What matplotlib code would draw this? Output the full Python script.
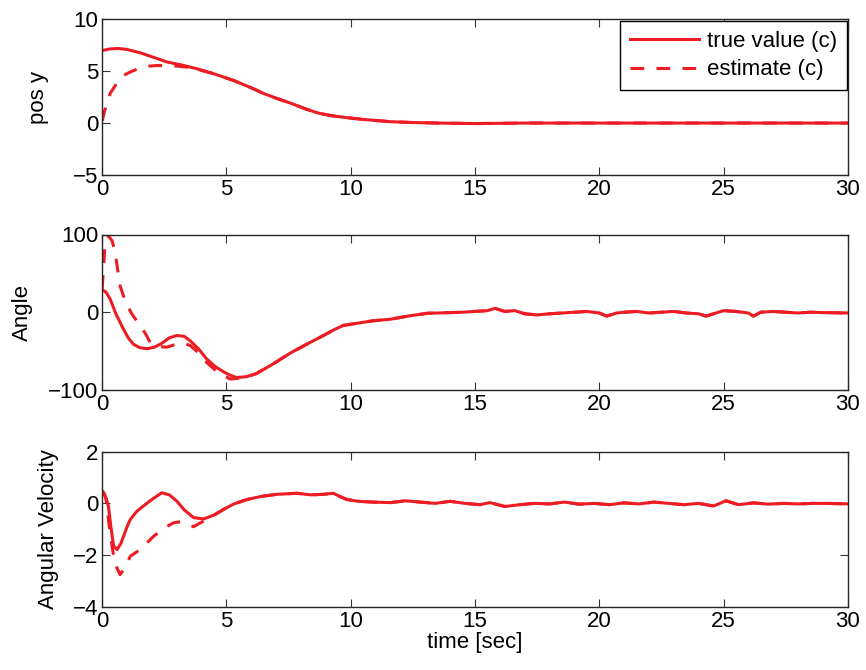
import matplotlib.pyplot as plt

plt.rcParams["font.family"] = ["Liberation Sans", "DejaVu Sans"]
plt.rcParams["font.size"] = 16

# Gemeinsame Auslaeufer (ab dem Zusammenlaufen beider Kurven)
t_pos_tail = [4.5, 5.3, 6.0, 6.5, 7.0, 7.6, 8.2, 8.7, 9.2, 9.7, 10.5, 11.6,
              12.5, 13.5, 15, 17, 20, 23, 26, 30]
pos_tail = [4.75, 4.1, 3.4, 2.85, 2.4, 1.9, 1.35, 0.96, 0.72, 0.56, 0.35, 0.13,
            0.05, 0.0, -0.05, 0.0, 0.0, 0.0, 0.0, 0.0]

t_pos_true = [0, 0.3, 0.65, 1.0, 1.5, 2.0, 2.6, 3.2, 3.8] + t_pos_tail
pos_true = [7.0, 7.15, 7.2, 7.1, 6.8, 6.4, 5.9, 5.6, 5.25] + pos_tail
t_pos_est = [0, 0.1, 0.32, 0.6, 0.85, 1.2, 1.5, 1.9, 2.2, 2.6, 3.0, 3.4, 3.7,
             4.2] + t_pos_tail
pos_est = [0.2, 1.2, 2.85, 3.9, 4.6, 5.0, 5.3, 5.5, 5.55, 5.55, 5.5, 5.4, 5.25,
           4.95] + pos_tail

t_ang_tail = [5.8, 6.2, 6.8, 7.6, 8.3, 8.9, 9.3, 9.7, 10.3, 10.9, 11.6, 12.3,
              13.1, 13.5, 14, 14.5, 15, 15.5, 15.8, 16.2, 16.6, 17, 17.5, 18,
              18.5, 19, 19.5, 20, 20.3, 20.7, 21, 21.5, 22, 22.5, 23, 23.5, 24,
              24.3, 24.7, 25, 25.5, 26, 26.2, 26.5, 27, 27.5, 28, 28.5, 29, 30]
ang_tail = [-83, -79, -68, -52, -40, -30, -23, -17, -14, -11, -9, -5,
            -1.3, -1, -0.5, 0, 1, 2, 5, 1, 2, -2, -3.5, -2,
            -1, 0, 1, -1, -5, -1, 0, 1, -1, 0, 1, -1, -2,
            -5, -1, 2, 1, -1, -5, 0, 1, 0, -1, 0, -0.5, -1]

t_ang_true = [0, 0.15, 0.32, 0.55, 0.86, 1.05, 1.25, 1.5, 1.8, 2.1, 2.4, 2.7,
              3.0, 3.3, 3.55, 3.9, 4.2, 4.55, 4.9, 5.15, 5.4] + t_ang_tail
ang_true = [29, 26, 17, -2, -22, -33, -41, -45.5, -47, -45, -40, -33,
            -30, -31, -37, -48, -60, -70, -77, -81, -84] + ang_tail
t_ang_est = [0, 0.1, 0.25, 0.4, 0.52, 0.72, 0.95, 1.2, 1.53, 1.75, 1.93, 2.2,
             2.6, 3.0, 3.3, 3.55, 3.9, 4.2, 4.6, 5.15, 5.5] + t_ang_tail
ang_est = [30, 80, 98, 92, 77, 34, 12, -2.5, -17.5, -28, -39, -44,
           -45, -41, -40, -43, -53, -64.5, -76, -86, -85] + ang_tail

t_vel_tail = [4.5, 4.89, 5.3, 5.83, 6.4, 7.03, 7.84, 8.4, 8.9, 9.3, 9.6, 9.85,
              10.3, 10.9, 11.6, 12.2, 12.8, 13.4, 14, 14.6, 15.2, 15.6, 16.2,
              16.8, 17.4, 18, 18.6, 19.2, 19.8, 20.4, 21, 21.6, 22.2, 22.8,
              23.4, 24, 24.6, 25.1, 25.6, 26.2, 26.8, 27.4, 28, 28.6, 29.2, 30]
vel_tail = [-0.45, -0.23, -0.02, 0.15, 0.27, 0.35, 0.39, 0.33, 0.35, 0.39, 0.25,
            0.15, 0.08, 0.05, 0.03, 0.1, 0.05, 0.0, 0.08, 0.0, -0.05, 0.03,
            -0.12, -0.05, 0.0, -0.02, 0.05, -0.03, 0.0, -0.05, 0.02, -0.02,
            0.05, 0.0, -0.05, 0.0, -0.1, 0.1, -0.05, 0.02, -0.03, 0.0, -0.02,
            0.0, 0.0, -0.02]

t_vel_true = [0, 0.1, 0.25, 0.35, 0.46, 0.6, 0.75, 0.86, 1.0, 1.13, 1.4, 1.66,
              2.0, 2.4, 2.7, 3.0, 3.3, 3.68, 4.08] + t_vel_tail
vel_true = [0.48, 0.35, -0.1, -0.9, -1.65, -1.78, -1.55, -1.27, -0.9, -0.62,
            -0.3, -0.1, 0.15, 0.41, 0.33, 0.09, -0.25, -0.55, -0.6] + vel_tail
t_vel_est = [0, 0.15, 0.3, 0.5, 0.72, 0.9, 1.13, 1.53, 2.07, 2.5, 2.87, 3.2,
             3.68, 4.08] + t_vel_tail
vel_est = [0.5, 0.2, -1.0, -2.3, -2.75, -2.5, -2.04, -1.78, -1.27, -0.95,
           -0.75, -0.7, -0.9, -0.68] + vel_tail

x_ticks = [0, 5, 10, 15, 20, 25, 30]
panels = [
    ("pos y", t_pos_true, pos_true, t_pos_est, pos_est, (-5, 10), [-5, 0, 5, 10]),
    ("Angle", t_ang_true, ang_true, t_ang_est, ang_est, (-100, 100), [-100, 0, 100]),
    ("Angular Velocity", t_vel_true, vel_true, t_vel_est, vel_est, (-4, 2),
     [-4, -2, 0, 2]),
]

red = "#ED1C24"
fig = plt.figure(figsize=(8.66, 6.70), dpi=100)
bottoms = [0.739, 0.418, 0.094]
label_pads = [17, 11, 10]

for (label, tt, yt, te, ye, ylim, yticks), bottom, lp in zip(panels, bottoms,
                                                             label_pads):
    ax = fig.add_axes([0.118, bottom, 0.861, 0.232])
    ax.plot(tt, yt, color=red, lw=2.2, label="true value (c)")
    ax.plot(te, ye, color=red, lw=2.2, ls=(0, (4.5, 4)), label="estimate (c)")
    ax.set_xlim(0, 30)
    ax.set_ylim(*ylim)
    ax.set_xticks(x_ticks)
    ax.set_yticks(yticks)
    ax.set_yticklabels([str(v).replace("-", "\u2212") for v in yticks])
    ax.set_ylabel(label, labelpad=lp)
    ax.tick_params(direction="in", top=True, right=True, length=6,
                   width=0.8, color="#333333", pad=3)
    for spine in ax.spines.values():
        spine.set_linewidth(1.0)
        spine.set_color("#262626")
    if label == "pos y":
        leg = ax.legend(loc="upper right", fancybox=False, framealpha=1,
                        edgecolor="black", handlelength=3.1, handletextpad=0.35,
                        borderaxespad=0.05, borderpad=0.45, labelspacing=0.35)
        leg.get_frame().set_linewidth(1.0)
    if label == "Angular Velocity":
        ax.set_xlabel("time [sec]", labelpad=0)

fig.savefig("out.png", dpi=100)
